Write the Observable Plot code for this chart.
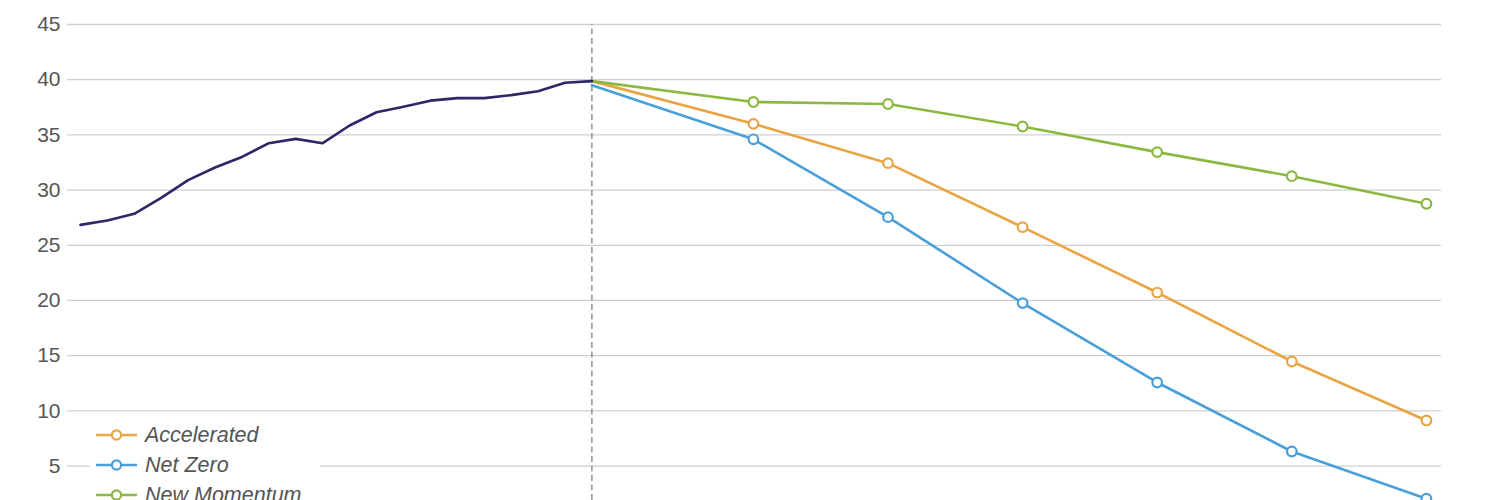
<!DOCTYPE html>
<html>
<head>
<meta charset="utf-8">
<script src="https://cdn.jsdelivr.net/npm/d3@7"></script>
<script src="https://cdn.jsdelivr.net/npm/@observablehq/plot@0.6"></script>
<style>
  html, body { margin: 0; padding: 0; background: #fff; }
  #wrap { position: relative; width: 1500px; height: 500px; overflow: hidden; background: #fff; }
  #legend { position: absolute; left: 90px; top: 418px; width: 230px; height: 100px; background: #fff;
            font-family: "Liberation Sans", Arial, sans-serif; font-style: italic; font-size: 21.5px; color: #555; }
  .item { position: absolute; left: 0; height: 26px; display: flex; align-items: center; white-space: nowrap; }
  .item svg { margin-left: 6px; margin-right: 8px; }
</style>
</head>
<body>
<div id="wrap"><div id="chart"></div><div id="legend"></div></div>
<script>
// ---- data ----
const histYears = [2000, 2001, 2002, 2003, 2004, 2005, 2006, 2007, 2008, 2009,
                   2010, 2011, 2012, 2013, 2014, 2015, 2016, 2017, 2018, 2019];
const histValues = [26.85, 27.25, 27.85, 29.3, 30.9, 32.05, 33.0, 34.25, 34.64, 34.25,
                    35.85, 37.05, 37.55, 38.1, 38.33, 38.33, 38.6, 38.95, 39.72, 39.87];
const projYears = [2019, 2025, 2030, 2035, 2040, 2045, 2050];
const accelerated = [39.87, 36.0, 32.44, 26.64, 20.72, 14.47, 9.13];
const netZero     = [39.5, 34.6, 27.55, 19.76, 12.57, 6.32, 2.04];
const newMomentum = [39.87, 37.98, 37.8, 35.76, 33.44, 31.26, 28.76];
const seriesNames = ["Accelerated", "Net Zero", "New Momentum"];
const seriesColors = ["#e9a443", "#4a9fd9", "#8cb842"];
const histColor = "#2c2868";
const yTicks = [5, 10, 15, 20, 25, 30, 35, 40, 45];
const baseYear = 2019;

// ---- tables ----
const hist = histYears.map((y, i) => ({year: y, value: histValues[i]}));
const seriesValues = [accelerated, netZero, newMomentum];
const proj = [];
seriesNames.forEach((name, s) => projYears.forEach((y, i) => proj.push({series: name, year: y, value: seriesValues[s][i]})));
const projDots = proj.filter(d => d.year !== baseYear);
const yMin = 1.88;

const chart = Plot.plot({
  width: 1500, height: 500,
  marginLeft: 67, marginRight: 59, marginTop: 24, marginBottom: 0,
  style: {fontFamily: "'Liberation Sans', Arial, sans-serif", background: "#fff", overflow: "hidden"},
  x: {domain: [1999.52, 2050.56], axis: null},
  y: {domain: [yMin, 45], axis: null},
  color: {domain: seriesNames, range: seriesColors},
  marks: [
    Plot.gridY(yTicks, {stroke: "#cfcfcf", strokeOpacity: 1, strokeWidth: 1.3}),
    Plot.axisY(yTicks, {tickSize: 0, tickPadding: 7, fontSize: 21, fill: "#555", label: null}),
    Plot.ruleX([baseYear], {y1: yMin, y2: 45, stroke: "#777", strokeWidth: 1.2, strokeDasharray: "6,3.5"}),
    Plot.line(proj, {x: "year", y: "value", z: "series", stroke: "series", strokeWidth: 2.6}),
    Plot.line(hist, {x: "year", y: "value", stroke: histColor, strokeWidth: 2.6}),
    Plot.dot(projDots, {x: "year", y: "value", stroke: "series", fill: "#fff", r: 4.8, strokeWidth: 2.2})
  ]
});
document.getElementById("chart").appendChild(chart);

// ---- legend ----
const legend = document.getElementById("legend");
seriesNames.forEach((name, i) => {
  const it = document.createElement("div");
  it.className = "item";
  it.style.top = (4 + i * 30) + "px";
  it.innerHTML = `<svg width="41" height="14"><line x1="0" y1="7" x2="41" y2="7" stroke="${seriesColors[i]}" stroke-width="2.6"/>` +
    `<circle cx="20.5" cy="7" r="4.6" fill="#fff" stroke="${seriesColors[i]}" stroke-width="2.2"/></svg><span>${name}</span>`;
  legend.appendChild(it);
});
</script>
</body>
</html>
